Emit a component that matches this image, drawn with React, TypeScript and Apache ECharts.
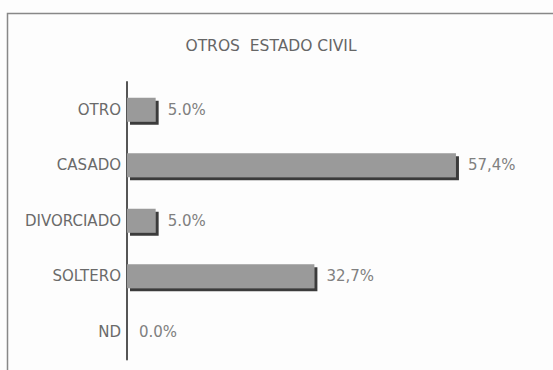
import React, { useEffect, useRef } from "react";
import * as echarts from "echarts";

const categories = ["OTRO", "CASADO", "DIVORCIADO", "SOLTERO", "ND"];
const values = [5.0, 57.4, 5.0, 32.7, 0.0];
const valueLabels = ["5.0%", "57,4%", "5.0%", "32,7%", "0.0%"];
const titleText = "OTROS  ESTADO CIVIL";

const FONT = "DejaVu Sans, Verdana, sans-serif";

export default function App() {
  const ref = useRef<HTMLDivElement>(null);
  useEffect(() => {
    document.body.style.margin = "0";
    const chart = echarts.init(ref.current!, null, { renderer: "svg" });
    chart.setOption({
      animation: false,
      backgroundColor: "#fdfdfd",
      textStyle: { fontFamily: FONT },
      title: {
        text: titleText,
        left: 266,
        textAlign: "center",
        top: 33,
        textStyle: { fontSize: 15.5, fontWeight: "normal", color: "#666", fontFamily: FONT },
      },
      graphic: [
        {
          type: "rect",
          shape: { x: 7.5, y: 13.5, width: 560, height: 370 },
          style: { fill: "none", stroke: "#888", lineWidth: 1.5 },
          silent: true,
        },
      ],
      grid: { left: 127, top: 82, width: 372.5, height: 277.5, containLabel: false },
      xAxis: { type: "value", min: 0, max: 65, show: false },
      yAxis: {
        type: "category",
        data: categories,
        inverse: true,
        axisLine: { show: true, lineStyle: { color: "#555", width: 2 } },
        axisTick: { show: false },
        axisLabel: { color: "#6a6a6a", fontSize: 15, margin: 6, fontFamily: FONT },
        splitLine: { show: false },
      },
      series: [
        {
          type: "bar",
          data: values,
          barWidth: 24,
          itemStyle: {
            color: "#9a9a9a",
            shadowColor: "#3a3a3a",
            shadowOffsetX: 3,
            shadowOffsetY: 3,
            shadowBlur: 0,
          },
          label: {
            show: true,
            position: "right",
            distance: 12,
            color: "#808080",
            fontSize: 15,
            fontFamily: FONT,
            formatter: (p: any) => valueLabels[p.dataIndex],
          },
        },
      ],
    });
    return () => chart.dispose();
  }, []);
  return <div ref={ref} style={{ width: 553, height: 370 }} />;
}
